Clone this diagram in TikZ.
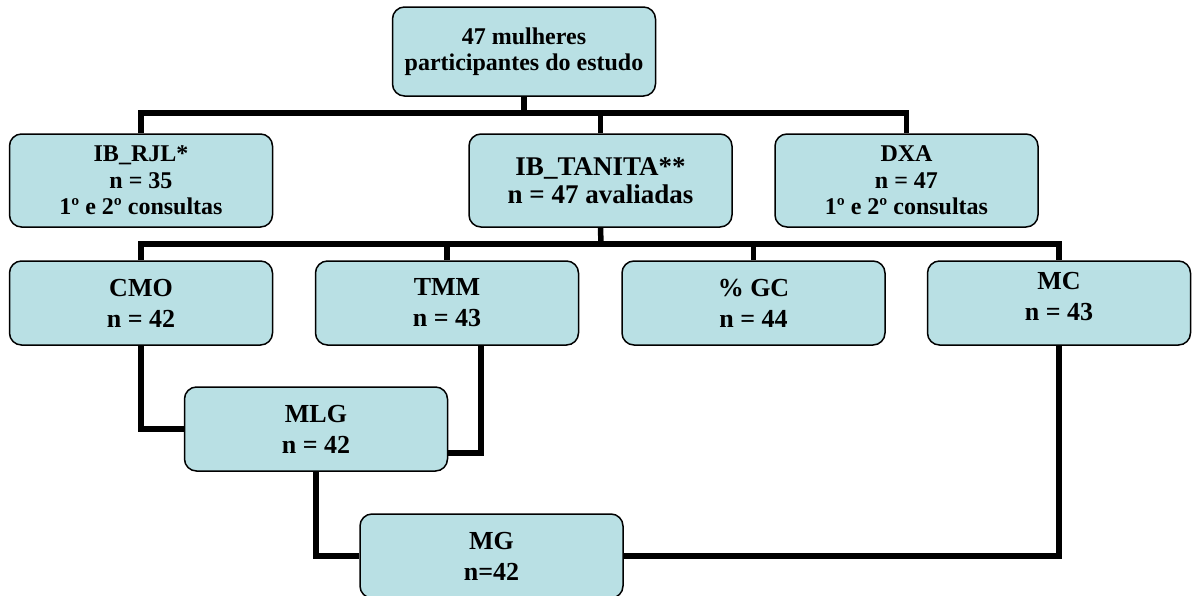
\documentclass[tikz,border=0pt]{standalone}
\usepackage{fontspec}
\setmainfont{Liberation Serif}
\definecolor{boxfill}{RGB}{185,224,228}
\begin{document}
\begin{tikzpicture}[x=1pt,y=-1pt,
  box/.style={draw=black,line width=1.5pt,fill=boxfill,rounded corners=12pt,
    align=center,inner sep=0pt,minimum width=263pt,font=\bfseries},
  rowa/.style={box,minimum height=93pt},
  rowb/.style={box,minimum height=84pt,font=\bfseries\fontsize{26}{31}\selectfont},
  conn/.style={line width=5.5pt,line join=miter}]
\useasboundingbox (0,0) rectangle (1192,595);
% nodes
\node[box,minimum height=89pt,font=\bfseries\fontsize{24}{26}\selectfont] (top) at (524,51.5) {47 mulheres\\participantes do estudo};
\node[rowa,font=\bfseries\fontsize{24}{26.5}\selectfont] (rjl) at (141,180.5) {IB\_RJL*\\n = 35\\1º e 2º consultas};
\node[rowa,font=\bfseries\fontsize{27}{28}\selectfont] (tanita) at (600.5,180.5) {IB\_TANITA**\\n = 47 avaliadas};
\node[rowa,font=\bfseries\fontsize{24}{26.5}\selectfont] (dxa) at (906.5,180.5) {DXA\\n = 47\\1º e 2º consultas};
\node[rowb] (cmo) at (141,303) {CMO\\n = 42};
\node[rowb] (tmm) at (447,303) {TMM\\n = 43};
\node[rowb] (gc) at (753.5,303) {\% GC\\n = 44};
\node[rowb] (mc) at (1059,303) {MC\\n = 43\\[-17pt]\mbox{}};
\node[rowb] (mlg) at (316,429) {MLG\\n = 42};
\node[rowb] (mg) at (491.5,556) {MG\\n=42};
% connectors
\coordinate (h1) at (524,113);
\coordinate (h2) at (601,244);
\draw[conn] (top.south) -- (h1);
\draw[conn] (rjl.north) -- (rjl.north |- h1) -- (dxa.north |- h1) -- (dxa.north);
\draw[conn] (tanita.north) -- (tanita.north |- h1);
\draw[conn] (tanita.south) -- (h2);
\draw[conn] (cmo.north) -- (cmo.north |- h2) -- (mc.north |- h2) -- (mc.north);
\draw[conn] (tmm.north) -- (tmm.north |- h2);
\draw[conn] (gc.north) -- (gc.north |- h2);
\draw[conn] (cmo.south) |- (mlg.west);
\draw[conn] ([xshift=34pt]tmm.south) |- ([yshift=-24pt]mlg.east);
\draw[conn] (mlg.south) |- (mg.west);
\draw[conn] (mc.south) |- (mg.east);
\end{tikzpicture}
\end{document}
